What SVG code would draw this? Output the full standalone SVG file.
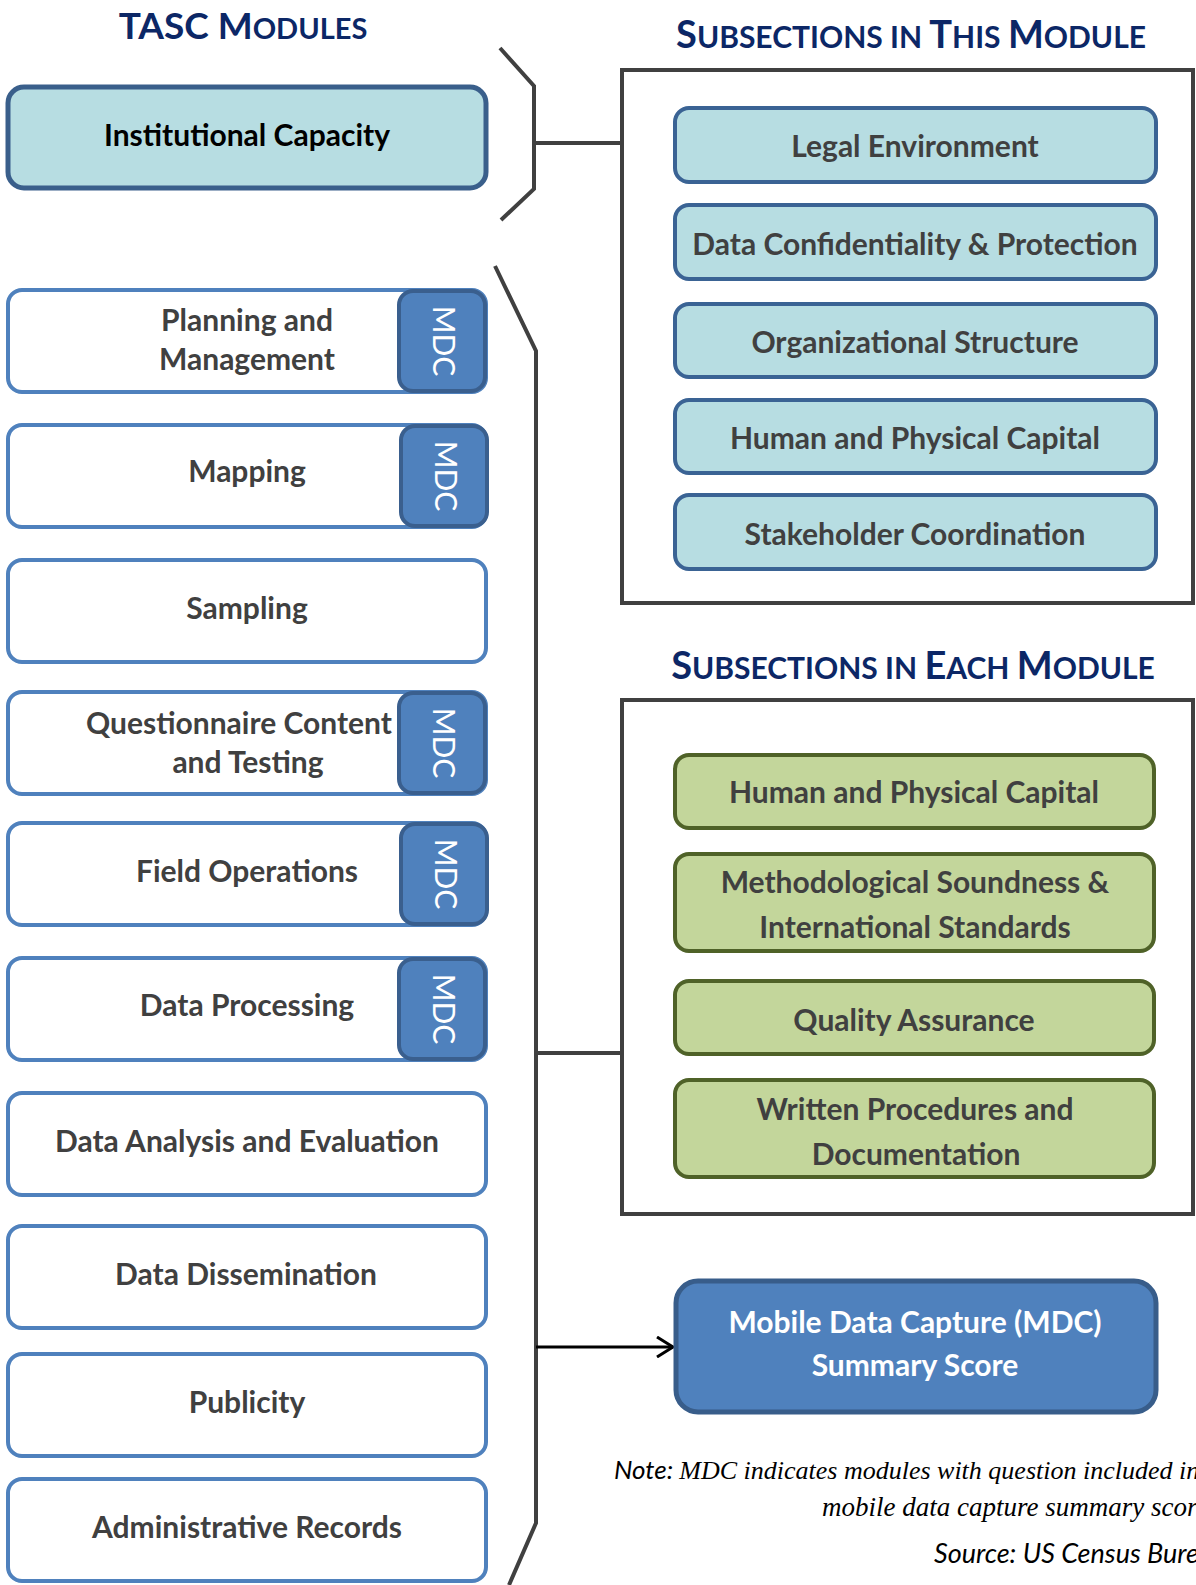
<svg xmlns="http://www.w3.org/2000/svg" width="1196" height="1585" viewBox="0 0 1196 1585">
<defs>
<style>
.lbl{font-family:Lato,"Open Sans","Liberation Sans",sans-serif;font-weight:bold;font-size:30px;fill:#404040;text-anchor:middle}
.ttl{font-family:Lato,"Open Sans","Liberation Sans",sans-serif;font-weight:bold;fill:#0C2766;text-anchor:middle}
.big{font-size:37px}
.sm{font-size:29px}
.big2{font-size:38px}
.sm2{font-size:30px}
.mod{fill:#ffffff;stroke:#4F81BD;stroke-width:4}
.tab{fill:#4F81BD;stroke:#3A5F8E;stroke-width:4}
.tabt{font-family:Lato,"Open Sans","Liberation Sans",sans-serif;font-size:30px;fill:#ffffff;text-anchor:middle}
.teal{fill:#B7DDE2;stroke:#3A6394;stroke-width:4}
.green{fill:#C3D69B;stroke:#4F6228;stroke-width:4}
.frame{fill:#ffffff;stroke:#404040;stroke-width:4}
.con{fill:none;stroke:#404040;stroke-width:4}
.note{font-family:"Liberation Serif",serif;font-style:italic;font-size:27px;fill:#000}
.notes{font-family:Lato,"Liberation Sans",sans-serif;font-style:italic;font-size:27px;fill:#000}
</style>
<marker id="arr" viewBox="0 0 20 22" refX="18" refY="11" markerWidth="20" markerHeight="22" markerUnits="userSpaceOnUse" orient="auto">
<path d="M2,1 L18,11 L2,21" fill="none" stroke="#000" stroke-width="3"/>
</marker>
</defs>
<rect width="1196" height="1585" fill="#ffffff"/>

<g id="titles">
<text class="ttl" x="243" y="39"><tspan class="big">TASC M</tspan><tspan class="sm">ODULES</tspan></text>
<text class="ttl" x="911" y="48"><tspan class="big2">S</tspan><tspan class="sm2">UBSECTIONS IN </tspan><tspan class="big2">T</tspan><tspan class="sm2">HIS </tspan><tspan class="big2">M</tspan><tspan class="sm2">ODULE</tspan></text>
<text class="ttl" x="913" y="679"><tspan class="big2">S</tspan><tspan class="sm2">UBSECTIONS IN </tspan><tspan class="big2">E</tspan><tspan class="sm2">ACH </tspan><tspan class="big2">M</tspan><tspan class="sm2">ODULE</tspan></text>
</g>

<g id="frames">
<rect id="frame-this" class="frame" x="622" y="70" width="571" height="533"/>
<rect id="frame-each" class="frame" x="622" y="700" width="571" height="514"/>
</g>

<g id="connectors">
<polyline class="con" points="500,48 534,86 534,189 501,220"/>
<line class="con" x1="534" y1="143" x2="622" y2="143"/>
<polyline class="con" points="495,266 536,351 536,1523 509,1585"/>
<line class="con" x1="536" y1="1053" x2="622" y2="1053"/>
<line x1="536" y1="1347" x2="673" y2="1347" stroke="#000" stroke-width="3" marker-end="url(#arr)"/>
</g>

<g id="institutional-capacity">
<rect x="8" y="87" width="478" height="101" rx="16" fill="#B7DDE2" stroke="#3A5F8B" stroke-width="5"/>
<text class="lbl" x="247" y="146" style="fill:#000">Institutional Capacity</text>
</g>

<g id="planning">
<rect class="mod" x="8" y="290" width="478" height="102" rx="14"/>
<rect class="tab" x="399" y="291" width="86" height="100" rx="14"/>
<text class="tabt" transform="translate(443,341) rotate(90)" dy="10">MDC</text>
<text class="lbl" x="247" y="331">Planning and</text>
<text class="lbl" x="247" y="370">Management</text>
</g>
<g id="mapping">
<rect class="mod" x="8" y="425" width="478" height="102" rx="14"/>
<rect class="tab" x="401" y="426" width="86" height="100" rx="14"/>
<text class="tabt" transform="translate(445,476) rotate(90)" dy="10">MDC</text>
<text class="lbl" x="247" y="482">Mapping</text>
</g>
<g id="sampling">
<rect class="mod" x="8" y="560" width="478" height="102" rx="14"/>
<text class="lbl" x="247" y="619">Sampling</text>
</g>
<g id="questionnaire">
<rect class="mod" x="8" y="692" width="478" height="102" rx="14"/>
<rect class="tab" x="399" y="693" width="86" height="100" rx="14"/>
<text class="tabt" transform="translate(443,743) rotate(90)" dy="10">MDC</text>
<text class="lbl" x="239" y="734">Questionnaire Content</text>
<text class="lbl" x="248" y="773">and Testing</text>
</g>
<g id="field-operations">
<rect class="mod" x="8" y="823" width="478" height="102" rx="14"/>
<rect class="tab" x="401" y="824" width="86" height="100" rx="14"/>
<text class="tabt" transform="translate(445,874) rotate(90)" dy="10">MDC</text>
<text class="lbl" x="247" y="882">Field Operations</text>
</g>
<g id="data-processing">
<rect class="mod" x="8" y="958" width="478" height="102" rx="14"/>
<rect class="tab" x="399" y="959" width="86" height="100" rx="14"/>
<text class="tabt" transform="translate(443,1009) rotate(90)" dy="10">MDC</text>
<text class="lbl" x="247" y="1016">Data Processing</text>
</g>
<g id="data-analysis">
<rect class="mod" x="8" y="1093" width="478" height="102" rx="14"/>
<text class="lbl" x="247" y="1152">Data Analysis and Evaluation</text>
</g>
<g id="data-dissemination">
<rect class="mod" x="8" y="1226" width="478" height="102" rx="14"/>
<text class="lbl" x="246" y="1285">Data Dissemination</text>
</g>
<g id="publicity">
<rect class="mod" x="8" y="1354" width="478" height="102" rx="14"/>
<text class="lbl" x="247" y="1413">Publicity</text>
</g>
<g id="administrative-records">
<rect class="mod" x="8" y="1479" width="478" height="102" rx="14"/>
<text class="lbl" x="247" y="1538">Administrative Records</text>
</g>

<g id="legal-environment">
<rect class="teal" x="675" y="108" width="481" height="74" rx="14"/>
<text class="lbl" x="915" y="157">Legal Environment</text>
</g>
<g id="data-confidentiality">
<rect class="teal" x="675" y="205" width="481" height="74" rx="14"/>
<text class="lbl" x="915" y="255">Data Confidentiality &amp; Protection</text>
</g>
<g id="organizational-structure">
<rect class="teal" x="675" y="304" width="481" height="73" rx="14"/>
<text class="lbl" x="915" y="353">Organizational Structure</text>
</g>
<g id="human-physical-capital-1">
<rect class="teal" x="675" y="400" width="481" height="73" rx="14"/>
<text class="lbl" x="915" y="449">Human and Physical Capital</text>
</g>
<g id="stakeholder-coordination">
<rect class="teal" x="675" y="495" width="481" height="74" rx="14"/>
<text class="lbl" x="915" y="545">Stakeholder Coordination</text>
</g>

<g id="human-physical-capital-2">
<rect class="green" x="675" y="755" width="479" height="73" rx="14"/>
<text class="lbl" x="914" y="803">Human and Physical Capital</text>
</g>
<g id="methodological-soundness">
<rect class="green" x="675" y="854" width="479" height="97" rx="14"/>
<text class="lbl" x="915" y="893">Methodological Soundness &amp;</text>
<text class="lbl" x="915" y="938">International Standards</text>
</g>
<g id="quality-assurance">
<rect class="green" x="675" y="981" width="479" height="73" rx="14"/>
<text class="lbl" x="914" y="1031">Quality Assurance</text>
</g>
<g id="written-procedures">
<rect class="green" x="675" y="1080" width="479" height="97" rx="14"/>
<text class="lbl" x="915" y="1120">Written Procedures and</text>
<text class="lbl" x="916" y="1165">Documentation</text>
</g>

<g id="mdc-summary-score">
<rect x="676" y="1281" width="480" height="131" rx="22" fill="#4F81BD" stroke="#385D8A" stroke-width="5"/>
<text class="lbl" x="915" y="1333" style="fill:#fff">Mobile Data Capture (MDC)</text>
<text class="lbl" x="915" y="1376" style="fill:#fff">Summary Score</text>
</g>

<g id="notes">
<text x="614" y="1479"><tspan class="notes" style="font-size:26px">Note: </tspan><tspan class="note" style="font-size:26px">MDC indicates modules with question included in</tspan></text>
<text class="note" x="822" y="1516">mobile data capture summary score</text>
<text class="notes" x="934" y="1563">Source: US Census Bureau</text>
</g>
</svg>
